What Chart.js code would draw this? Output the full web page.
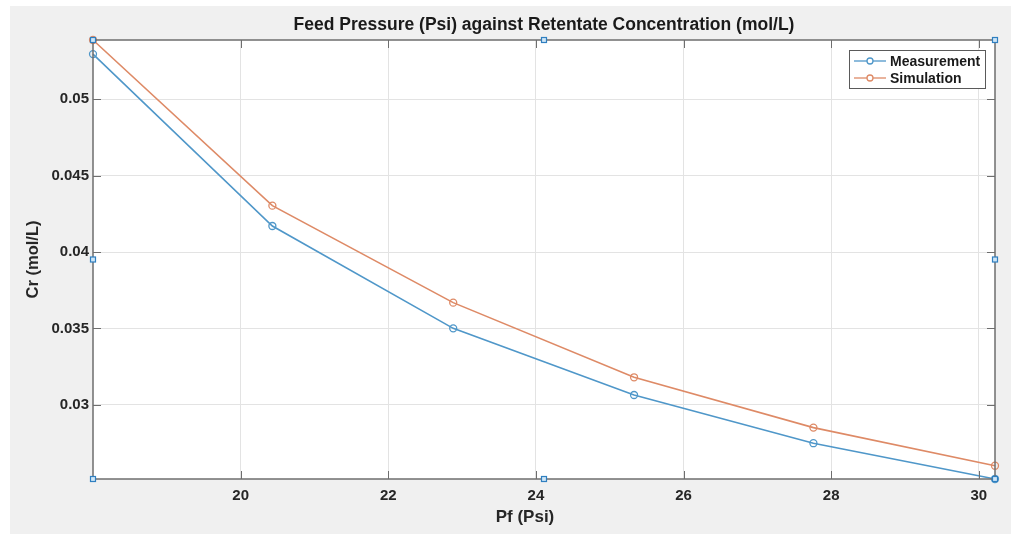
<!DOCTYPE html>
<html>
<head>
<meta charset="utf-8">
<script src="https://cdn.jsdelivr.net/npm/chart.js@4/dist/chart.umd.min.js"></script>
<style>
  html, body { margin: 0; padding: 0; background: #fff; }
  #wrap { width: 1022px; height: 534px; }
</style>
</head>
<body>
<div id="wrap"><canvas id="chart" width="1022" height="534"></canvas></div>
<script>
// values
const pressure = [18.0, 20.43, 22.88, 25.33, 27.76, 30.22];
const measured = [0.05294, 0.0417, 0.03501, 0.03065, 0.0275, 0.02516];
const simulated = [0.05386, 0.04303, 0.03669, 0.03181, 0.02852, 0.02603];
const xTicks = [20, 22, 24, 26, 28, 30];
const yTicks = [0.03, 0.035, 0.04, 0.045, 0.05];

const titleText = "Feed Pressure (Psi) against Retentate Concentration (mol/L)";
const xTitle = "Pf (Psi)";
const blue = "#4f97c9";
const orange = "#de8a66";
const font = "'Liberation Sans', Arial, sans-serif";

const toPoints = (xs, ys) => xs.map((x, i) => ({ x: x, y: ys[i] }));

/**
 * Background, titles, inward ticks, box, legend and the selection handles
 */
const matlabLook = {
  id: "matlabLook",
  beforeDraw(chart) {
    const ctx = chart.ctx;
    ctx.save();
    ctx.fillStyle = "#ffffff";
    ctx.fillRect(0, 0, chart.width, chart.height);
    ctx.fillStyle = "#f0f0f0";
    ctx.fillRect(10, 6, 1001, 528);
    const a = chart.chartArea;
    ctx.fillStyle = "#ffffff";
    ctx.fillRect(a.left, a.top, a.right - a.left, a.bottom - a.top);
    ctx.restore();
  },
  afterDatasetsDraw(chart) {
    const ctx = chart.ctx;
    const a = chart.chartArea;
    const xs = chart.scales.x;
    const ys = chart.scales.y;
    ctx.save();
    // box
    ctx.strokeStyle = "#6e6e6e";
    ctx.lineWidth = 1.5;
    ctx.strokeRect(a.left, a.top, a.right - a.left, a.bottom - a.top);
    // inward ticks
    ctx.lineWidth = 1;
    ctx.beginPath();
    xTicks.forEach((v) => {
      const px = Math.round(xs.getPixelForValue(v)) + 0.5;
      ctx.moveTo(px, a.bottom); ctx.lineTo(px, a.bottom - 8);
      ctx.moveTo(px, a.top); ctx.lineTo(px, a.top + 8);
    });
    yTicks.forEach((v) => {
      const py = Math.round(ys.getPixelForValue(v)) + 0.5;
      ctx.moveTo(a.left, py); ctx.lineTo(a.left + 8, py);
      ctx.moveTo(a.right, py); ctx.lineTo(a.right - 8, py);
    });
    ctx.stroke();

    // title
    ctx.fillStyle = "#1a1a1a";
    ctx.font = "bold 17.5px " + font;
    ctx.textAlign = "center";
    ctx.textBaseline = "middle";
    ctx.fillText(titleText, (a.left + a.right) / 2, 25);

    // x axis title (sits a little left of centre in the figure)
    ctx.fillStyle = "#262626";
    ctx.font = "bold 17px " + font;
    ctx.fillText(xTitle, (a.left + a.right) / 2 - 19, 517);

    // legend
    const lx = 849, ly = 50, lw = 136, lh = 38;
    ctx.fillStyle = "#ffffff";
    ctx.fillRect(lx, ly, lw, lh);
    ctx.strokeStyle = "#5a5a5a";
    ctx.lineWidth = 1;
    ctx.strokeRect(lx + 0.5, ly + 0.5, lw, lh);
    ctx.font = "bold 14px " + font;
    ctx.textAlign = "left";
    chart.data.datasets.forEach((ds, i) => {
      const y = ly + 11 + i * 17;
      ctx.strokeStyle = ds.borderColor;
      ctx.lineWidth = 1.3;
      ctx.beginPath();
      ctx.moveTo(lx + 5, y); ctx.lineTo(lx + 37, y);
      ctx.stroke();
      ctx.beginPath();
      ctx.arc(lx + 21, y, 3, 0, Math.PI * 2);
      ctx.fillStyle = "#ffffff";
      ctx.fill();
      ctx.stroke();
      ctx.fillStyle = "#1a1a1a";
      ctx.fillText(ds.label, lx + 41, y + 1);
    });

    // selection handles of the axes
    const hx = [a.left, (a.left + a.right) / 2, a.right];
    const hy = [a.top, (a.top + a.bottom) / 2, a.bottom];
    ctx.lineWidth = 1.2;
    hx.forEach((x, i) => hy.forEach((y, j) => {
      if (i === 1 && j === 1) return;
      ctx.fillStyle = "#cfe6f7";
      ctx.strokeStyle = "#2f7fc0";
      ctx.fillRect(x - 2.5, y - 2.5, 5, 5);
      ctx.strokeRect(x - 2.5, y - 2.5, 5, 5);
    }));
    ctx.restore();
  },
};

new Chart(document.getElementById("chart"), {
  type: "line",
  data: {
    datasets: [
      {
        label: "Measurement",
        data: toPoints(pressure, measured),
        borderColor: blue,
        backgroundColor: "rgba(255,255,255,0)",
        borderWidth: 1.6,
        pointRadius: 3.5,
        pointBorderWidth: 1.3,
        pointBackgroundColor: "rgba(255,255,255,0)",
        pointBorderColor: blue,
        tension: 0,
        clip: false,
      },
      {
        label: "Simulation",
        data: toPoints(pressure, simulated),
        borderColor: orange,
        backgroundColor: "rgba(255,255,255,0)",
        borderWidth: 1.6,
        pointRadius: 3.5,
        pointBorderWidth: 1.3,
        pointBackgroundColor: "rgba(255,255,255,0)",
        pointBorderColor: orange,
        tension: 0,
        clip: false,
      },
    ],
  },
  options: {
    responsive: false,
    animation: false,
    layout: { padding: { top: 40, right: 27, left: 0, bottom: 0 } },
    plugins: {
      legend: { display: false },
      tooltip: { enabled: false },
      title: { display: false },
    },
    scales: {
      x: {
        type: "linear",
        min: Math.min(...pressure),
        max: Math.max(...pressure),
        afterBuildTicks: (scale) => { scale.ticks = xTicks.map((v) => ({ value: v })); },
        afterFit: (scale) => { scale.height = 55; },
        grid: { color: "#e3e3e3", drawTicks: false, lineWidth: 1 },
        border: { display: false },
        ticks: {
          padding: 8,
          color: "#262626",
          font: { family: font, size: 15, weight: "bold" },
          maxRotation: 0,
          callback: (v) => String(v),
        },
      },
      y: {
        type: "linear",
        min: Math.min(...measured),
        max: Math.max(...simulated),
        afterBuildTicks: (scale) => { scale.ticks = yTicks.map((v) => ({ value: v })); },
        afterFit: (scale) => { scale.width = 93; },
        grid: { color: "#e3e3e3", drawTicks: false, lineWidth: 1 },
        border: { display: false },
        ticks: {
          padding: 4,
          color: "#262626",
          font: { family: font, size: 15, weight: "bold" },
          callback: (v) => String(v),
        },
        title: {
          display: true,
          text: "Cr (mol/L)",
          color: "#262626",
          font: { family: font, size: 16.5, weight: "bold" },
          padding: { top: 24, bottom: 0 },
        },
      },
    },
  },
  plugins: [matlabLook],
});
</script>
</body>
</html>
